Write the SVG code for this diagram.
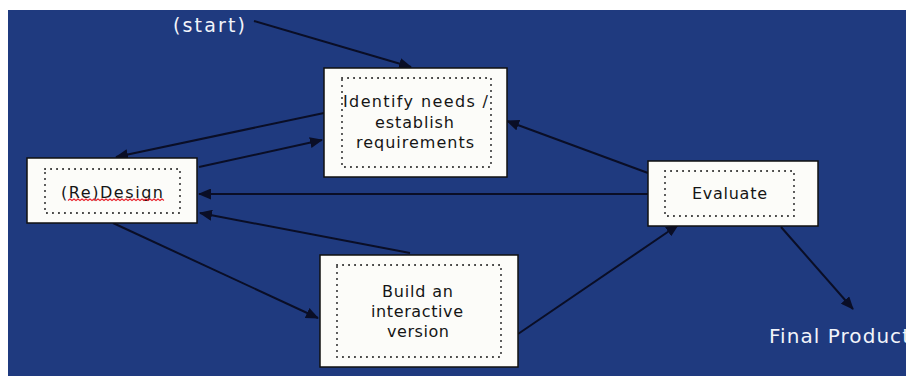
<svg xmlns="http://www.w3.org/2000/svg" width="906" height="376" viewBox="0 0 906 376">
<defs>
<style>
.box{fill:#fcfcf9;stroke:#111;stroke-width:1.5}
.dot{fill:none;stroke:#2a2a2a;stroke-width:2;stroke-dasharray:0.1 5.9;stroke-linecap:round}
.lbl{font-family:"DejaVu Sans","Liberation Sans",sans-serif;font-size:16px;fill:#151515;text-anchor:middle}
.wt{font-family:"DejaVu Sans","Liberation Sans",sans-serif;fill:#f2f4fa}
.con{stroke:#0a0e26;stroke-width:2;fill:none;marker-end:url(#ah)}
</style>
<marker id="ah" viewBox="0 0 13 11" refX="12" refY="5.5" markerWidth="13" markerHeight="11" markerUnits="userSpaceOnUse" orient="auto">
<path d="M0,0 L13,5.5 L0,11 z" fill="#0a0e26"/>
</marker>
</defs>
<rect x="0" y="0" width="906" height="376" fill="#ffffff"/>
<rect x="8" y="10" width="898" height="366" fill="#1f3a7f"/>

<g id="connectors">
<line class="con" x1="254" y1="21" x2="411" y2="67"/>
<line class="con" x1="324" y1="113" x2="116" y2="157"/>
<line class="con" x1="199" y1="167" x2="322" y2="140"/>
<line class="con" x1="648" y1="173" x2="507" y2="121"/>
<line class="con" x1="648" y1="194" x2="199" y2="194"/>
<line class="con" x1="410" y1="253" x2="200" y2="213"/>
<line class="con" x1="113" y1="223" x2="318" y2="318"/>
<line class="con" x1="518" y1="334" x2="678" y2="225"/>
<line class="con" x1="781" y1="227" x2="853" y2="309"/>
</g>

<g id="start">
<text class="wt" x="173" y="32" font-size="19" textLength="72" lengthAdjust="spacing">(start)</text>
</g>

<g id="identify">
<rect class="box" x="324" y="68" width="183" height="109"/>
<rect class="dot" x="342" y="78" width="149" height="89"/>
<text class="lbl" x="415.5" y="107" textLength="145" lengthAdjust="spacing">Identify needs /</text>
<text class="lbl" x="414.5" y="128" textLength="79" lengthAdjust="spacing">establish</text>
<text class="lbl" x="415" y="148" textLength="118" lengthAdjust="spacing">requirements</text>
</g>

<g id="redesign">
<rect class="box" x="27" y="158" width="170" height="65"/>
<rect class="dot" x="45" y="169" width="135" height="44"/>
<text class="lbl" x="112" y="198" font-size="17" textLength="102" lengthAdjust="spacing">(Re)Design</text>
<polyline points="68,200.5 70,199 72,200.5 74,199 76,200.5 78,199 80,200.5 82,199 84,200.5 86,199 88,200.5 90,199 92,200.5 94,199 96,200.5 98,199 100,200.5 102,199 104,200.5 106,199 108,200.5 110,199 112,200.5 114,199 116,200.5 118,199 120,200.5 122,199 124,200.5 126,199 128,200.5 130,199 132,200.5 134,199 136,200.5 138,199 140,200.5 142,199 144,200.5 146,199 148,200.5 150,199 152,200.5 154,199 156,200.5 158,199 160,200.5 162,199 164,200.5" fill="none" stroke="#e8202a" stroke-width="1.1"/>
</g>

<g id="evaluate">
<rect class="box" x="648" y="161" width="170" height="65"/>
<rect class="dot" x="665" y="171" width="129" height="45"/>
<text class="lbl" x="729.5" y="199" textLength="75" lengthAdjust="spacing">Evaluate</text>
</g>

<g id="build">
<rect class="box" x="320" y="255" width="198" height="112"/>
<rect class="dot" x="337" y="265" width="164" height="92"/>
<text class="lbl" x="417.5" y="297" textLength="71" lengthAdjust="spacing">Build an</text>
<text class="lbl" x="417" y="317" textLength="92" lengthAdjust="spacing">interactive</text>
<text class="lbl" x="418" y="337" textLength="62" lengthAdjust="spacing">version</text>
</g>

<g id="final">
<text class="wt" x="769" y="343" font-size="20" textLength="141" lengthAdjust="spacing">Final Product</text>
</g>
</svg>
